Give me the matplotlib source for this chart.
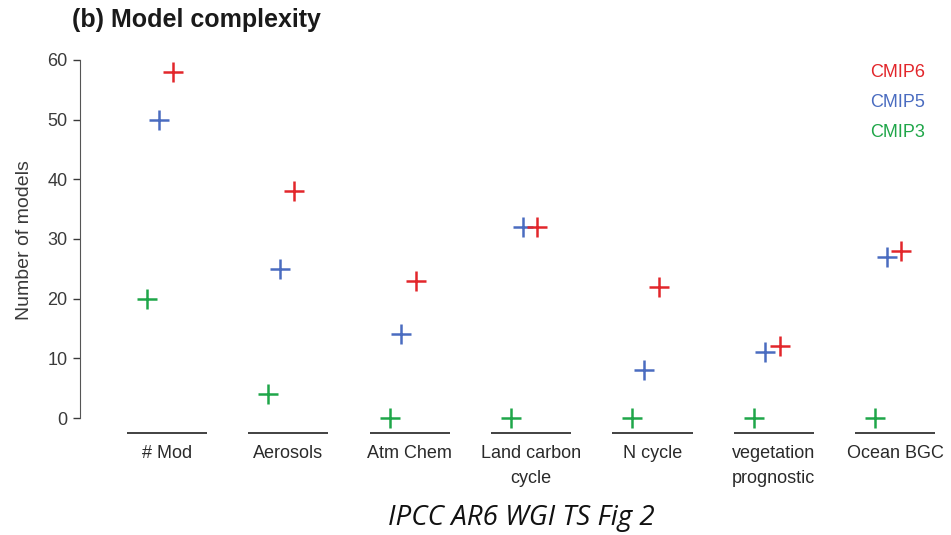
import numpy as np
from matplotlib import pyplot as plt

plt.rcParams['font.family'] = ['Liberation Sans Narrow', 'Liberation Sans', 'DejaVu Sans']

# данные
categories = ['# Mod', 'Aerosols', 'Atm Chem', 'Land carbon\ncycle', 'N cycle',
              'vegetation\nprognostic', 'Ocean BGC']
cmip6 = [58, 38, 23, 32, 22, 12, 28]
cmip5 = [50, 25, 14, 32, 8, 11, 27]
cmip3 = [20, 4, 0, 0, 0, 0, 0]

red = '#e2262b'
blue = '#4a6cc0'
green = '#1fa649'

fig = plt.figure(figsize=(9.51, 5.35), dpi=100)
ax = fig.add_axes([0.0841, 0.1908, 0.916, 0.7196])

x = np.arange(len(categories))
ms, mew = 15, 1.8
ax.plot(x - 0.165, cmip3, '+', color=green, ms=ms, mew=mew, clip_on=False)
ax.plot(x - 0.07, cmip5, '+', color=blue, ms=ms, mew=mew, clip_on=False)
ax.plot(x + 0.05, cmip6, '+', color=red, ms=ms, mew=mew, clip_on=False)

# отрезки под каждой категорией
ax.hlines(np.full(len(x), -2.5), x - 0.33, x + 0.33, color='#333333', lw=1.3, clip_on=False)

ax.set_xlim(-0.717, 6.46)
ax.set_ylim(-2.5, 62)
ax.set_xticks(x)
ax.set_xticklabels(categories, fontsize=13, color='#2a2a2a', linespacing=1.55)
ax.tick_params(axis='x', length=0, pad=9)
ax.set_yticks(range(0, 61, 10))
ax.tick_params(axis='y', labelsize=13, colors='#3a3a3a', length=5, width=1, pad=4)
for s in ['top', 'right', 'bottom']:
    ax.spines[s].set_visible(False)
ax.spines['left'].set_bounds(0, 60)
ax.spines['left'].set_color('#555555')
ax.set_ylabel('Number of models', fontsize=14, color='#3a3a3a', labelpad=10)

# легенда текстом
ax.text(0.97, 0.935, 'CMIP6', color=red, fontsize=13, ha='right', va='center', transform=ax.transAxes)
ax.text(0.97, 0.857, 'CMIP5', color=blue, fontsize=13, ha='right', va='center', transform=ax.transAxes)
ax.text(0.97, 0.781, 'CMIP3', color=green, fontsize=13, ha='right', va='center', transform=ax.transAxes)

fig.text(0.076, 0.962, '(b) Model complexity', fontsize=18, fontweight='bold',
         color='#1a1a1a', ha='left', va='center')
fig.text(0.548, 0.032, 'IPCC AR6 WGI TS Fig 2', fontsize=20, style='italic',
         family=['Open Sans', 'DejaVu Sans'], color='#111111', ha='center', va='center')

fig.savefig('out.png', dpi=100)
